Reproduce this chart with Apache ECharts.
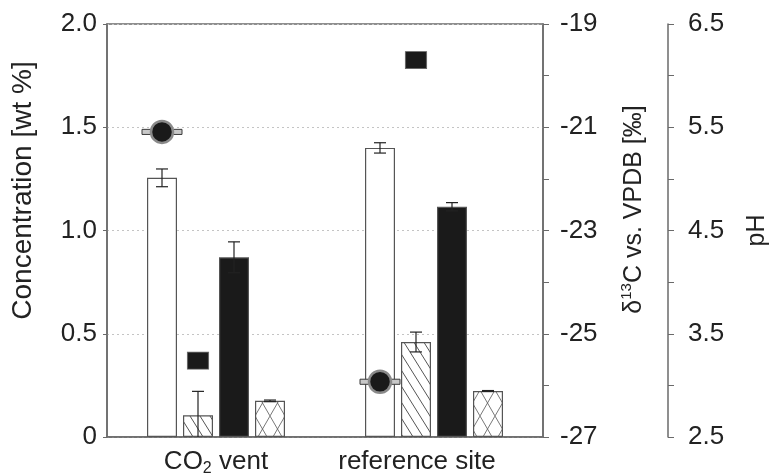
<!DOCTYPE html>
<html>
<head>
<meta charset="utf-8">
<script src="https://cdn.jsdelivr.net/npm/echarts@6/dist/echarts.min.js"></script>
<style>
  html, body { margin: 0; padding: 0; background: #fff; }
  #chart { width: 772px; height: 473px; }
</style>
</head>
<body>
<div id="chart"></div>
<script>
// Sites on the category axis
const categories = ['CO2 vent', 'reference site'];

// Concentrations [wt %] and their standard deviations (four bar groups)
const whiteBars = [1.255, 1.40];
const whiteErr  = [0.043, 0.025];
const diagBars  = [0.105, 0.46];
const diagErr   = [0.116, 0.048];
const blackBars = [0.87, 1.115];
const blackErr  = [0.075, 0.02];
const crossBars = [0.175, 0.223];
const crossErr  = [0.004, 0.002];

// δ13C vs. VPDB [‰] (circles) and pH (squares)
const delta13C    = [-21.09, -25.93];
const delta13CErr = [0.03, 0.03];
const pHValues    = [3.24, 6.15];

// Axis tick values
const concTicks  = [0, 0.5, 1.0, 1.5, 2.0];
const deltaTicks = [-27, -25, -23, -21, -19];
const pHTicks    = [2.5, 3.5, 4.5, 5.5, 6.5];

const FONT = "'Liberation Sans', Arial, sans-serif";
const TXT = '#222';
const AX = '#6a6a6a';
const FS = 26;
const BAR_W = 30, BAR_GAP = 6;
// horizontal pixel offset of bar i from the category centre
const barOffset = i => (i - 1.5) * (BAR_W + BAR_GAP);

function makePattern(draw, w, h) {
  const c = document.createElement('canvas');
  c.width = w; c.height = h;
  const ctx = c.getContext('2d');
  ctx.fillStyle = '#fff';
  ctx.fillRect(0, 0, w, h);
  ctx.strokeStyle = '#555';
  ctx.lineWidth = 1;
  draw(ctx, w, h);
  return c;
}
const diagTile = makePattern((ctx, w, h) => {
  ctx.beginPath();
  ctx.moveTo(-w, -h); ctx.lineTo(2 * w, 2 * h);
  ctx.moveTo(0, -h); ctx.lineTo(2 * w, h);
  ctx.moveTo(-w, 0); ctx.lineTo(w, 2 * h);
  ctx.stroke();
}, 10, 16);
const crossTile = makePattern((ctx, w, h) => {
  ctx.lineWidth = 0.8;
  ctx.beginPath();
  ctx.moveTo(0, 0); ctx.lineTo(w, h);
  ctx.moveTo(w, 0); ctx.lineTo(0, h);
  ctx.stroke();
}, 15, 26);

function errorBars(values, errs, idx, capW, yIndex, halo) {
  return {
    type: 'custom',
    yAxisIndex: yIndex,
    z: halo ? 4 : 3,
    data: values.map((v, i) => [i, v, errs[i]]),
    renderItem(params, api) {
      const c = api.value(0), v = api.value(1), e = api.value(2);
      const x = api.coord([c, v])[0] + barOffset(idx);
      const yTop = api.coord([c, v + e])[1];
      const yBot = api.coord([c, v - e])[1];
      if (halo) {
        return {
          type: 'rect',
          shape: { x: x - capW / 2, y: yTop - 1, width: capW, height: (yBot - yTop) + 2 },
          style: { fill: '#c8c8c8', stroke: '#3a3a3a', lineWidth: 1 }
        };
      }
      const lo = Math.min(yBot, params.coordSys.y + params.coordSys.height);
      const kids = [
        { type: 'line', shape: { x1: x, y1: yTop, x2: x, y2: lo }, style: { stroke: '#222', lineWidth: 1.2 } },
        { type: 'line', shape: { x1: x - capW / 2, y1: yTop, x2: x + capW / 2, y2: yTop }, style: { stroke: '#222', lineWidth: 1.2 } }
      ];
      if (v - e >= 0) {
        kids.push({ type: 'line', shape: { x1: x - capW / 2, y1: yBot, x2: x + capW / 2, y2: yBot }, style: { stroke: '#222', lineWidth: 1.2 } });
      }
      return { type: 'group', children: kids };
    }
  };
}

const barBase = { type: 'bar', barWidth: BAR_W, barGap: (BAR_GAP / BAR_W * 100) + '%', z: 2 };

const chart = echarts.init(document.getElementById('chart'), null, { renderer: 'canvas' });
chart.setOption({
  animation: false,
  textStyle: { fontFamily: FONT },
  grid: {
    left: 107, right: 229, top: 24, bottom: 36,
    containLabel: false, outerBoundsMode: 'none',
    show: true, borderColor: AX, borderWidth: 1.5
  },
  xAxis: {
    type: 'category',
    data: categories,
    axisLine: { lineStyle: { color: AX, width: 1.5 } },
    axisTick: { alignWithLabel: true, length: 4, lineStyle: { color: AX } },
    axisLabel: {
      margin: 10,
      formatter: v => v === 'CO2 vent' ? '{n|CO}{s|2}{n| vent}' : '{r|' + v + '}',
      rich: {
        n: { fontSize: FS, color: TXT, fontFamily: FONT, lineHeight: 30 },
        r: { fontSize: FS, color: TXT, fontFamily: FONT, lineHeight: 30, padding: [0, 34, 0, 0] },
        s: { fontSize: 16, color: TXT, fontFamily: FONT, lineHeight: 16, verticalAlign: 'bottom' }
      }
    }
  },
  yAxis: [
    {
      type: 'value', position: 'left', min: concTicks[0], max: concTicks[concTicks.length - 1], interval: 0.5,
      axisLine: { show: true, lineStyle: { color: AX, width: 1.5 } },
      axisTick: { show: true, length: 4, lineStyle: { color: AX } },
      axisLabel: { fontSize: FS, color: TXT, margin: 10, formatter: v => v === 0 ? '0' : v.toFixed(1) },
      splitLine: { show: true, lineStyle: { color: '#c4c4c4', type: [2, 3], width: 1 } },
      name: 'Concentration [wt %]', nameLocation: 'middle', nameGap: 70,
      nameTextStyle: { fontSize: 28, color: TXT, padding: [0, 0, 0, 80] }
    },
    {
      type: 'value', position: 'right', min: deltaTicks[0], max: deltaTicks[deltaTicks.length - 1], interval: 2,
      axisLine: { show: true, lineStyle: { color: AX, width: 1.5 } },
      axisTick: { show: true, length: 6, lineStyle: { color: AX } },
      minorTick: { show: true, splitNumber: 2, length: 6, lineStyle: { color: AX } },
      axisLabel: { fontSize: FS, color: TXT, margin: 17 },
      splitLine: { show: false },
      name: '{t|δ}{p|13}{t|C vs. VPDB [‰]}', nameLocation: 'middle', nameGap: 76, nameRotate: 90,
      nameTextStyle: {
        padding: [0, 0, 0, 42],
        rich: {
          t: { fontSize: 25, color: TXT, fontFamily: FONT, lineHeight: 30 },
          p: { fontSize: 15, color: TXT, fontFamily: FONT, lineHeight: 15, verticalAlign: 'top' }
        }
      }
    },
    {
      type: 'value', position: 'right', offset: 125, min: pHTicks[0], max: pHTicks[pHTicks.length - 1], interval: 1,
      axisLine: { show: true, lineStyle: { color: AX, width: 1.5 } },
      axisTick: { show: true, length: 6, lineStyle: { color: AX } },
      minorTick: { show: true, splitNumber: 2, length: 6, lineStyle: { color: AX } },
      axisLabel: { fontSize: FS, color: TXT, margin: 20, formatter: v => v.toFixed(1) },
      splitLine: { show: false },
      name: 'pH', nameLocation: 'middle', nameGap: 77, nameRotate: 90,
      nameTextStyle: { fontSize: 25, color: TXT }
    }
  ],
  series: [
    Object.assign({}, barBase, { data: whiteBars, itemStyle: { color: '#fff', borderColor: '#555', borderWidth: 1.2 } }),
    Object.assign({}, barBase, { data: diagBars, itemStyle: { color: { image: diagTile, repeat: 'repeat' }, borderColor: '#555', borderWidth: 1.2 } }),
    Object.assign({}, barBase, { data: blackBars, itemStyle: { color: '#1a1a1a', borderColor: '#555', borderWidth: 1.2 } }),
    Object.assign({}, barBase, { data: crossBars, itemStyle: { color: { image: crossTile, repeat: 'repeat' }, borderColor: '#555', borderWidth: 1.2 } }),
    errorBars(whiteBars, whiteErr, 0, 12, 0, false),
    errorBars(diagBars, diagErr, 1, 12, 0, false),
    errorBars(blackBars, blackErr, 2, 12, 0, false),
    errorBars(crossBars, crossErr, 3, 12, 0, false),
    errorBars(delta13C, delta13CErr, 0, 40, 1, true),
    {
      type: 'scatter', yAxisIndex: 1, z: 5,
      data: delta13C.map((v, i) => [i, v]),
      symbol: 'circle', symbolSize: 22, symbolOffset: [barOffset(0), 0],
      itemStyle: { color: '#1a1a1a', borderColor: '#8a8a8a', borderWidth: 2.5, opacity: 1 }
    },
    {
      type: 'scatter', yAxisIndex: 2, z: 5,
      data: pHValues.map((v, i) => [i, v]),
      symbol: 'rect', symbolSize: [21, 17], symbolOffset: [barOffset(1), 0],
      itemStyle: { color: '#1a1a1a', borderColor: '#666', borderWidth: 1, opacity: 1 }
    }
  ]
});
</script>
</body>
</html>
